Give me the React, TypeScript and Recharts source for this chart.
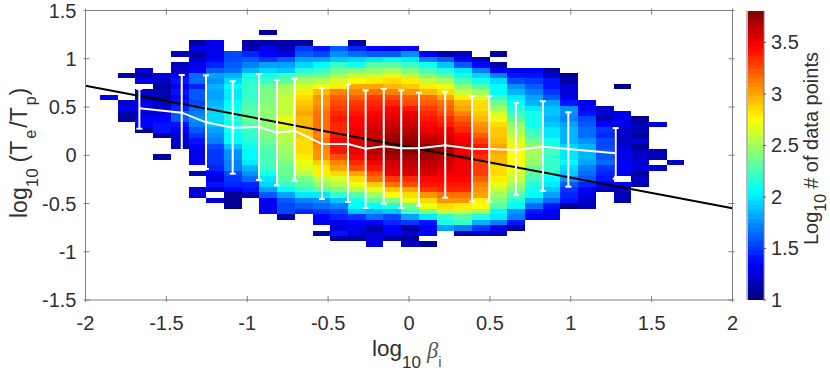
import React from 'react';
import { ComposedChart, XAxis, YAxis, Line, ErrorBar, ReferenceArea, Label } from 'recharts';

const FONT = '"Liberation Sans", Arial, sans-serif';
const INK = '#303030';
const BOX = '#808080';

const xTicks = [-2, -1.5, -1, -0.5, 0, 0.5, 1, 1.5, 2];
const yTicks = [-1.5, -1, -0.5, 0, 0.5, 1, 1.5];
const colorTicks = [1, 1.5, 2, 2.5, 3, 3.5];

// histogram bins
const binX0 = -1.91;
const binW = 0.10948;
const binY0 = 1.303;
const binH = 0.0563;

// first row (from the top) of every column
const columnStart = [12, 8, 7, 8, 4, 2, 2, 4, 2, 0, 2, 2, 3, 3, 2, 3, 3, 3, 4, 4, 4, 5, 4, 7, 7, 7, 8, 13, 14, 10, 16, 17, 24];

// log10 counts per column, top to bottom, null = empty bin
const columnCounts: (number | null)[][] = [
  [1.3],
  [1.1, null, null, null, null, 1.2, 1.3, 1.1, 1.1],
  [1.2, 1.1, 1.3, null, 1.2, 1.1, 1.3, 1.3, 1.2, 1.35, 1.35, 1.1],
  [1.25, 1.2, 1.1, 1.15, 1.1, 1.2, 1.2, 1.25, 1.35, 1.4, 1.4, 1.1, null, null, null, 1.1],
  [1.15, null, 1.15, 1.2, 1.35, 1.4, 1.3, 1.4, 1.35, 1.4, 1.45, 1.6, 1.6, 1.4, 1.35, 1.2, 1.2, 1.15],
  [1.1, 1.3, 1.1, 1.2, 1.3, 1.35, 1.65, 1.65, 1.45, 1.6, 1.6, 1.55, 1.65, 1.7, 1.75, 1.7, 1.6, 1.5, 1.4, 1.35, 1.25, 1.3, 1.3, null, 1.15, null, null, 1.25, 1.25],
  [1.3, 1.3, 1.3, 1.35, 1.45, 1.6, 1.8, 1.75, 1.85, 1.8, 1.8, 1.85, 1.9, 1.95, 1.95, 1.9, 1.8, 1.75, 1.7, 1.55, 1.5, 1.5, 1.5, 1.45, 1.35, 1.25, 1.4, 1.2, null, 1.25],
  [1.55, 1.55, 1.6, 1.65, 1.85, 1.95, 2.05, 2.0, 2.0, 2.05, 2.1, 2.2, 2.15, 2.1, 2.1, 2.05, 2.05, 1.9, 1.75, 1.75, 1.7, 1.7, 1.55, 1.5, 1.45, 1.35, 1.05, 1.05, 1.05],
  [1.1, 1.15, 1.45, 1.6, 1.7, 1.85, 2.1, 2.15, 2.2, 2.2, 2.2, 2.25, 2.3, 2.3, 2.35, 2.3, 2.2, 2.2, 2.15, 2.1, 2.05, 2.05, 2.0, 1.85, 1.75, 1.65, 1.45, 1.4, 1.15],
  [1.1, null, 1.1, 1.3, 1.35, 1.5, 1.8, 1.95, 2.1, 2.2, 2.35, 2.4, 2.4, 2.4, 2.45, 2.45, 2.45, 2.45, 2.4, 2.4, 2.35, 2.3, 2.25, 2.25, 2.25, 2.2, 2.1, 2.0, 1.95, 1.8, 1.6, 1.35, 1.3, 1.3],
  [1.1, 1.15, 1.3, 1.6, 1.8, 1.9, 2.2, 2.3, 2.5, 2.55, 2.6, 2.6, 2.6, 2.6, 2.7, 2.7, 2.6, 2.55, 2.55, 2.5, 2.5, 2.45, 2.4, 2.35, 2.35, 2.3, 2.2, 2.05, 1.8, 1.6, 1.55, 1.55, 1.1],
  [1.1, 1.5, 1.6, 1.8, 1.95, 2.15, 2.35, 2.5, 2.65, 2.8, 2.85, 2.9, 2.95, 3.0, 2.95, 2.95, 2.9, 2.9, 2.85, 2.85, 2.85, 2.8, 2.7, 2.65, 2.55, 2.4, 2.3, 2.2, 2.0, 1.7, 1.6, 1.45],
  [1.4, 1.55, 1.8, 2.05, 2.2, 2.35, 2.55, 2.7, 2.95, 3.05, 3.05, 3.1, 3.15, 3.15, 3.15, 3.15, 3.1, 3.15, 3.1, 3.05, 3.05, 2.9, 2.8, 2.8, 2.6, 2.45, 2.3, 2.0, 1.75, 1.65, 1.5, 1.35, 1.3, null, 1.1],
  [1.6, 1.75, 1.9, 2.2, 2.35, 2.5, 2.65, 2.8, 3.1, 3.2, 3.25, 3.3, 3.35, 3.4, 3.35, 3.35, 3.4, 3.45, 3.4, 3.4, 3.25, 3.1, 3.0, 2.85, 2.65, 2.55, 2.4, 2.2, 1.9, 1.7, 1.55, 1.45, 1.3, 1.25, 1.4, 1.1],
  [1.1, 1.45, 1.65, 1.95, 2.1, 2.4, 2.6, 2.75, 3.0, 3.1, 3.2, 3.3, 3.35, 3.4, 3.45, 3.45, 3.5, 3.5, 3.55, 3.55, 3.5, 3.45, 3.35, 3.25, 3.0, 2.85, 2.7, 2.55, 2.3, 2.1, 2.05, 1.9, 1.5, 1.35, 1.3, 1.25, 1.1],
  [1.35, 1.6, 2.0, 2.3, 2.45, 2.6, 2.8, 3.0, 3.15, 3.3, 3.35, 3.4, 3.45, 3.5, 3.55, 3.6, 3.6, 3.65, 3.7, 3.65, 3.6, 3.5, 3.4, 3.25, 3.15, 2.9, 2.7, 2.5, 2.3, 2.05, 1.85, 1.65, 1.35, 1.1, 1.25, 1.25, 1.3],
  [1.3, 1.6, 2.05, 2.3, 2.5, 2.7, 2.85, 2.95, 3.1, 3.25, 3.35, 3.45, 3.5, 3.55, 3.6, 3.65, 3.7, 3.75, 3.75, 3.75, 3.7, 3.6, 3.55, 3.5, 3.3, 3.15, 2.9, 2.75, 2.4, 2.15, 1.9, 1.55, 1.45, 1.35, 1.3, 1.1],
  [1.35, 1.75, 2.0, 2.2, 2.4, 2.55, 2.8, 2.9, 3.05, 3.2, 3.25, 3.4, 3.5, 3.55, 3.6, 3.65, 3.7, 3.75, 3.8, 3.8, 3.7, 3.65, 3.6, 3.55, 3.35, 3.25, 3.0, 2.85, 2.7, 2.35, 2.25, 1.8, 1.5, 1.1, 1.2, 1.1, 1.2],
  [1.35, 1.7, 2.1, 2.25, 2.4, 2.6, 2.8, 2.95, 3.15, 3.2, 3.3, 3.35, 3.4, 3.45, 3.5, 3.6, 3.65, 3.75, 3.75, 3.7, 3.65, 3.6, 3.55, 3.45, 3.4, 3.3, 3.05, 2.85, 2.7, 2.4, 2.0, 1.4, 1.35, 1.35, null, 1.05],
  [1.1, 1.6, 1.9, 2.15, 2.3, 2.5, 2.7, 2.85, 3.0, 3.15, 3.2, 3.25, 3.35, 3.4, 3.5, 3.55, 3.6, 3.7, 3.7, 3.65, 3.6, 3.55, 3.5, 3.45, 3.4, 3.35, 3.15, 3.05, 2.85, 2.6, 2.2, 2.1, 1.8],
  [1.2, 1.35, 1.6, 2.0, 2.1, 2.25, 2.45, 2.6, 2.8, 2.95, 3.0, 3.1, 3.2, 3.3, 3.35, 3.45, 3.5, 3.55, 3.5, 3.55, 3.5, 3.5, 3.5, 3.45, 3.4, 3.35, 3.15, 3.05, 2.8, 2.6, 2.3, 2.2, 1.7, 1.15],
  [1.15, 1.35, 1.7, 1.95, 2.1, 2.3, 2.5, 2.65, 2.85, 2.85, 2.9, 2.95, 3.05, 3.1, 3.2, 3.3, 3.4, 3.4, 3.35, 3.3, 3.3, 3.3, 3.2, 3.1, 3.05, 3.0, 2.8, 2.75, 2.5, 2.15, 1.85, 1.5, 1.2],
  [1.1, null, 1.1, 1.3, 1.7, 1.95, 2.05, 2.05, 2.2, 2.35, 2.5, 2.65, 2.7, 2.85, 2.9, 2.9, 2.95, 3.0, 3.0, 2.95, 2.95, 2.85, 2.85, 2.8, 2.7, 2.6, 2.5, 2.4, 2.3, 2.05, 2.0, 1.7, 1.3, 1.2],
  [1.3, 1.4, 1.55, 1.75, 1.85, 2.0, 2.05, 2.15, 2.2, 2.3, 2.45, 2.5, 2.6, 2.65, 2.7, 2.75, 2.75, 2.75, 2.7, 2.65, 2.6, 2.5, 2.4, 2.3, 2.15, 2.05, 1.75, 1.7, 1.4, 1.1],
  [1.35, 1.4, 1.5, 1.6, 1.7, 1.8, 1.85, 2.0, 2.1, 2.1, 2.1, 2.2, 2.25, 2.35, 2.45, 2.5, 2.5, 2.45, 2.35, 2.3, 2.25, 2.15, 2.1, 2.05, 1.85, 1.65, 1.4, 1.35],
  [1.1, 1.2, 1.4, 1.4, 1.5, 1.6, 1.8, 1.9, 1.9, 1.85, 1.9, 2.0, 2.0, 2.1, 2.15, 2.25, 2.2, 2.2, 2.2, 2.15, 2.05, 2.0, 1.9, 1.8, 1.65, 1.4, 1.35, 1.3],
  [1.05, 1.1, 1.25, 1.25, 1.3, 1.4, 1.75, 1.75, 1.7, 1.8, 1.85, 1.85, 1.85, 1.95, 2.0, 2.0, 2.05, 1.95, 1.9, 1.75, 1.6, 1.5, 1.45, 1.4, 1.05],
  [1.3, 1.35, 1.4, 1.55, 1.6, 1.65, 1.65, 1.75, 1.85, 1.85, 1.85, 1.8, 1.7, 1.65, 1.6, 1.45, 1.35, 1.3, 1.2, 1.15],
  [1.2, 1.25, 1.15, 1.35, 1.5, 1.45, 1.55, 1.55, 1.6, 1.6, 1.65, 1.5, 1.45, 1.4, 1.3, 1.15],
  [1.05, null, null, null, null, 1.3, 1.3, 1.3, 1.2, 1.2, 1.2, 1.25, 1.3, 1.3, 1.35, 1.35, 1.3, null, 1.3, 1.2, 1.15, 1.15],
  [1.05, 1.15, 1.15, 1.05, 1.25, 1.05, 1.2, 1.2, 1.25, 1.25, 1.05, 1.2, 1.15],
  [1.25, null, null, null, null, 1.15, 1.15, null, 1.2],
  [1.2],
];

// median and spread per beta bin
const betaBins = [-1.667, -1.405, -1.255, -1.09, -0.927, -0.816, -0.707, -0.538, -0.377, -0.268, -0.156, -0.048, 0.062, 0.224, 0.39, 0.496, 0.661, 0.828, 0.985, 1.278];
const medians = [0.487, 0.441, 0.341, 0.285, 0.293, 0.234, 0.254, 0.117, 0.117, 0.068, 0.093, 0.072, 0.072, 0.103, 0.068, 0.065, 0.054, 0.089, 0.065, 0.02];
const upper = [0.687, 0.832, 0.828, 0.766, 0.842, 0.78, 0.793, 0.694, 0.735, 0.673, 0.687, 0.673, 0.648, 0.659, 0.614, 0.614, 0.541, 0.559, 0.445, 0.282];
const lower = [0.275, 0.003, -0.142, -0.191, -0.256, -0.311, -0.264, -0.453, -0.484, -0.547, -0.502, -0.547, -0.523, -0.44, -0.481, -0.481, -0.409, -0.37, -0.326, -0.243];

const fitX = [-2, 2];
const fitY = [0.72, -0.55];

const medianData = betaBins.map((x, i) => ({ x, median: medians[i], spread: [medians[i] - lower[i], upper[i] - medians[i]] }));
const fitData = fitX.map((x, i) => ({ x, fit: fitY[i] }));

const COLOR_MIN = 1;
const COLOR_MAX = 3.81;

const jet = (v: number) => {
  const t = Math.min(1, Math.max(0, (v - COLOR_MIN) / (COLOR_MAX - COLOR_MIN)));
  const ch = (c: number) => Math.round(255 * Math.min(1, Math.max(0, 1.5 - Math.abs(4 * t - c))));
  return `rgb(${ch(3)},${ch(2)},${ch(1)})`;
};

const cellAreas = columnCounts.flatMap((col, c) =>
  col.map((v, r) => {
    if (v === null) return null;
    const row = columnStart[c] + r;
    return (
      <ReferenceArea
        key={`${c}-${row}`}
        x1={binX0 + c * binW}
        x2={binX0 + (c + 1) * binW}
        y1={binY0 - row * binH}
        y2={binY0 - (row + 1) * binH}
        fill={jet(v)}
        fillOpacity={1}
        stroke="none"
        shapeRendering="crispEdges"
      />
    );
  }),
);

const tickText = { fontFamily: FONT, fontSize: 20, fill: INK };

const BottomTick = ({ x, y, payload }: any) => (
  <g>
    <line x1={x} x2={x} y1={y} y2={y - 6} stroke={BOX} />
    <text x={x} y={y + 28} textAnchor="middle" {...tickText}>{payload.value}</text>
  </g>
);
const TopTick = ({ x, y }: any) => <line x1={x} x2={x} y1={y} y2={y + 6} stroke={BOX} />;
const LeftTick = ({ x, y, payload }: any) => (
  <g>
    <line x1={x} x2={x + 6} y1={y} y2={y} stroke={BOX} />
    <text x={x - 7} y={y + 7} textAnchor="end" {...tickText}>{payload.value}</text>
  </g>
);
const RightTick = ({ x, y }: any) => <line x1={x} x2={x - 6} y1={y} y2={y} stroke={BOX} />;
const ColorTick = ({ x, y, payload }: any) => (
  <g>
    <line x1={x} x2={x - 3} y1={y} y2={y} stroke="#555" />
    <text x={x + 5} y={y + 7} textAnchor="start" {...tickText}>{payload.value}</text>
  </g>
);

const XTitle = () => (
  <text x={372} y={356} fontFamily={FONT} fontSize={22.5} fill={INK}>
    log<tspan fontSize={17} dy={12}>10</tspan>
    <tspan dy={-10} dx={6} fontFamily='"Liberation Serif", serif' fontStyle="italic" fill="#555">β</tspan>
    <tspan fontSize={15} dy={9} fill="#555">i</tspan>
  </text>
);

const YTitle = () => (
  <text transform="translate(27,218) rotate(-90)" fontFamily={FONT} fontSize={23} fill={INK}>
    log<tspan fontSize={17} dy={11}>10</tspan>
    <tspan dy={-11} dx={6}>(T</tspan>
    <tspan fontSize={16} dy={9} dx={2}>e</tspan>
    <tspan dy={-9} dx={2}>/T</tspan>
    <tspan fontSize={16} dy={9} dx={2}>p</tspan>
    <tspan dy={-9} dx={1}>)</tspan>
  </text>
);

const colorBands = Array.from({ length: 64 }, (_, i) => i);

const ColorTitle = () => (
  <text transform="translate(88,245) rotate(-90)" fontFamily={FONT} fontSize={20} fill={INK}>
    Log<tspan fontSize={16} dy={8}>10</tspan>
    <tspan dy={-8} dx={5}># of data points</tspan>
  </text>
);

export default function App() {
  return (
    <div style={{ position: 'absolute', left: 0, top: 0, width: 830, height: 373, background: '#fff' }}>
      <div style={{ position: 'absolute', left: 0, top: 0 }}>
        <ComposedChart width={745} height={373} data={medianData} margin={{ top: 9.5, right: 11.5, left: 0, bottom: 0 }}>
          <XAxis dataKey="x" type="number" domain={[-2, 2]} ticks={xTicks} interval={0} height={73} tickSize={0} tickLine={false} tick={BottomTick} stroke={BOX} allowDataOverflow>
            <Label content={XTitle} />
          </XAxis>
          <XAxis xAxisId="top" orientation="top" dataKey="x" type="number" domain={[-2, 2]} ticks={xTicks} interval={0} height={1} tickSize={0} tickLine={false} tick={TopTick} stroke={BOX} allowDataOverflow />
          <YAxis type="number" domain={[-1.5, 1.5]} ticks={yTicks} interval={0} width={85.5} tickSize={0} tickLine={false} tick={LeftTick} stroke={BOX} allowDataOverflow>
            <Label content={YTitle} />
          </YAxis>
          <YAxis yAxisId="right" orientation="right" type="number" domain={[-1.5, 1.5]} ticks={yTicks} interval={0} width={1} tickSize={0} tickLine={false} tick={RightTick} stroke={BOX} allowDataOverflow />
          {cellAreas}
          <Line data={fitData} dataKey="fit" stroke="#000" strokeWidth={2} dot={false} isAnimationActive={false} />
          <Line dataKey="median" stroke="#fff" strokeWidth={2} dot={false} isAnimationActive={false}>
            <ErrorBar dataKey="spread" direction="y" width={3} stroke="#fff" strokeWidth={2} isAnimationActive={false} />
          </Line>
        </ComposedChart>
      </div>
      <div style={{ position: 'absolute', left: 730, top: 0 }}>
        <ComposedChart width={100} height={373} data={fitData} margin={{ top: 10.5, right: 65, left: 0, bottom: 73 }}>
          <XAxis dataKey="x" type="number" domain={[0, 64]} hide />
          <YAxis yAxisId="scale" orientation="right" type="number" domain={[COLOR_MIN, COLOR_MAX]} ticks={colorTicks} interval={0} width={1} tickSize={0} tickLine={false} tick={ColorTick} stroke="#777" allowDataOverflow>
            <Label content={ColorTitle} />
          </YAxis>
          <YAxis orientation="left" type="number" domain={[COLOR_MIN, COLOR_MAX]} width={17} tick={false} tickLine={false} stroke="#777" allowDataOverflow />
          {colorBands.map((i) => {
            const lo = COLOR_MIN + (i / 64) * (COLOR_MAX - COLOR_MIN);
            const hi = COLOR_MIN + ((i + 1) / 64) * (COLOR_MAX - COLOR_MIN);
            return <ReferenceArea key={i} x1={0} x2={64} y1={lo} y2={hi} fill={jet((lo + hi) / 2)} fillOpacity={1} stroke="none" shapeRendering="crispEdges" />;
          })}
        </ComposedChart>
      </div>
    </div>
  );
}
